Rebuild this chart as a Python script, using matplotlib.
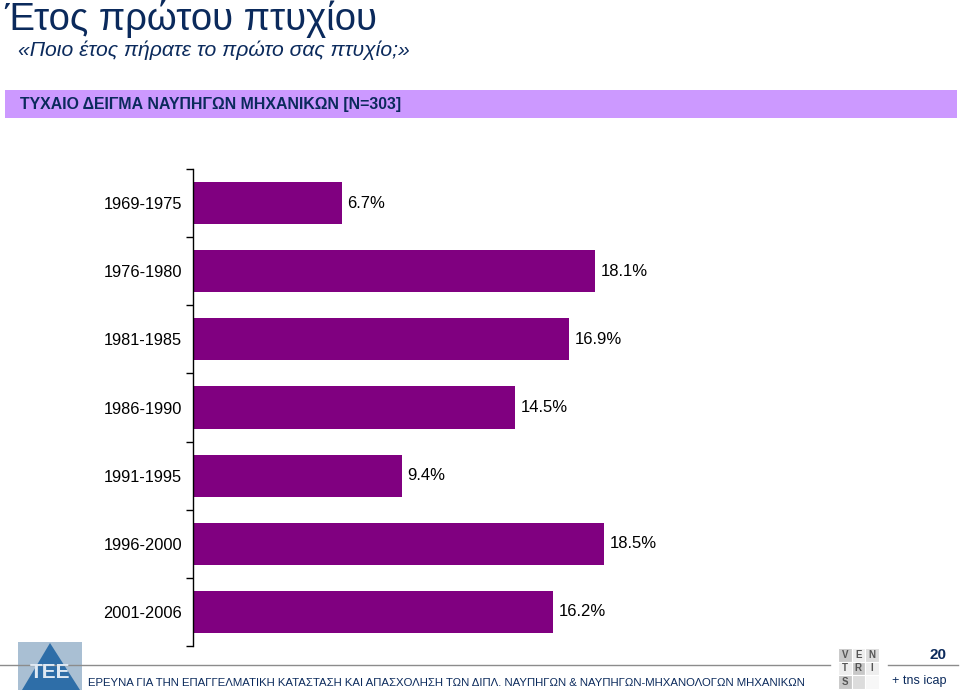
import matplotlib
matplotlib.use("Agg")
import matplotlib.pyplot as plt
from matplotlib.patches import Rectangle, Polygon
import numpy as np

plt.rcParams['font.family'] = ['Liberation Sans', 'DejaVu Sans']

categories = ["1969-1975", "1976-1980", "1981-1985", "1986-1990", "1991-1995", "1996-2000", "2001-2006"]
values = [6.7, 18.1, 16.9, 14.5, 9.4, 18.5, 16.2]
value_labels = ["6.7%", "18.1%", "16.9%", "14.5%", "9.4%", "18.5%", "16.2%"]

title = "Έτος πρώτου πτυχίου"
subtitle = "«Ποιο έτος πήρατε το πρώτο σας πτυχίο;»"
banner = "ΤΥΧΑΙΟ ΔΕΙΓΜΑ ΝΑΥΠΗΓΩΝ ΜΗΧΑΝΙΚΩΝ [N=303]"
footer = "ΕΡΕΥΝΑ ΓΙΑ ΤΗΝ ΕΠΑΓΓΕΛΜΑΤΙΚΗ ΚΑΤΑΣΤΑΣΗ ΚΑΙ ΑΠΑΣΧΟΛΗΣΗ ΤΩΝ ΔΙΠΛ. ΝΑΥΠΗΓΩΝ & ΝΑΥΠΗΓΩΝ-ΜΗΧΑΝΟΛΟΓΩΝ ΜΗΧΑΝΙΚΩΝ"
page_no = "20"

W, H = 960, 696
fig = plt.figure(figsize=(W / 100, H / 100), dpi=100)
fig.patch.set_facecolor("white")

def fx(x):
    return x / W

def fy(y):
    return 1 - y / H

navy = "#0b2a5c"
bar_color = "#800080"

# Title and subtitle
fig.text(fx(4), fy(19), title, fontsize=27.5, color=navy, va="center", ha="left")
fig.text(fx(18), fy(50), subtitle, fontsize=15.2, color=navy, style="italic", va="center", ha="left")

# Banner
fig.patches.append(Rectangle((fx(5), fy(118)), fx(952), 28 / H, transform=fig.transFigure,
                             facecolor="#cc99ff", edgecolor="none"))
fig.text(fx(20), fy(104), banner, fontsize=11.4, fontweight="bold", color=navy, va="center", ha="left")

# Chart axes
ax_left, ax_right = 193, 860
ax_top, ax_bottom = 169, 646
ax = fig.add_axes([fx(ax_left), fy(ax_bottom), (ax_right - ax_left) / W, (ax_bottom - ax_top) / H])
y = np.arange(len(categories))
ax.barh(y, values, height=0.62, color=bar_color, left=0)
ax.set_xlim(0, 30)
ax.set_ylim(len(categories) - 0.5, -0.5)
for s in ["top", "right", "bottom"]:
    ax.spines[s].set_visible(False)
ax.spines["left"].set_color("black")
ax.spines["left"].set_linewidth(1.0)
ax.set_xticks([])
ax.set_yticks(y)
ax.set_yticklabels(categories, fontsize=11.8)
ax.tick_params(axis="y", which="major", length=0, pad=8)
ax.set_yticks(np.arange(-0.5, len(categories), 1.0), minor=True)
ax.tick_params(axis="y", which="minor", length=5, width=1.0, direction="out")
for yi, v, lab in zip(y, values, value_labels):
    ax.text(v + 0.25, yi, lab, fontsize=12, va="center", ha="left", color="black")

# Footer line
fig.add_artist(plt.Line2D([fx(0), fx(830)], [fy(665), fy(665)], color="#8c8c8c", lw=1.0))
fig.add_artist(plt.Line2D([fx(888), fx(958)], [fy(665), fy(665)], color="#8c8c8c", lw=1.0))
fig.text(fx(88), fy(683), footer, fontsize=8.2, color=navy, va="center", ha="left")
fig.text(fx(946), fy(655), page_no, fontsize=11, fontweight="bold", color=navy, va="center", ha="right")
fig.text(fx(919), fy(681), "+ tns icap", fontsize=9, color=navy, va="center", ha="center")

# TEE logo approximation
fig.patches.append(Rectangle((fx(18), fy(690)), fx(64), 48 / H, transform=fig.transFigure,
                             facecolor="#a9bfd3", edgecolor="none"))
fig.patches.append(Polygon([(fx(22), fy(690)), (fx(50), fy(643)), (fx(80), fy(690))],
                           closed=True, transform=fig.transFigure, facecolor="#2e6ea8", edgecolor="none"))
fig.text(fx(50), fy(673), "ΤΕΕ", fontsize=15, fontweight="bold", color="#dfe9f3", va="center", ha="center")

# Ventris grid
cells = [["V", "E", "N"], ["T", "R", "I"], ["S", "", ""]]
shades = [["#c8c8c8", "#eeeeee", "#dcdcdc"], ["#eeeeee", "#c8c8c8", "#eeeeee"], ["#c8c8c8", "#dcdcdc", "#f7f7f7"]]
cw = 13.5
for r in range(3):
    for c in range(3):
        x0 = 838 + c * cw
        y0 = 648 + r * cw
        fig.patches.append(Rectangle((fx(x0), fy(y0 + cw)), cw / W, cw / H, transform=fig.transFigure,
                                     facecolor=shades[r][c], edgecolor="white", lw=0.8))
        if cells[r][c]:
            fig.text(fx(x0 + cw / 2), fy(y0 + cw / 2), cells[r][c], fontsize=7, fontweight="bold",
                     color="#555555", va="center", ha="center")

fig.savefig("out.png", dpi=100, facecolor="white")
